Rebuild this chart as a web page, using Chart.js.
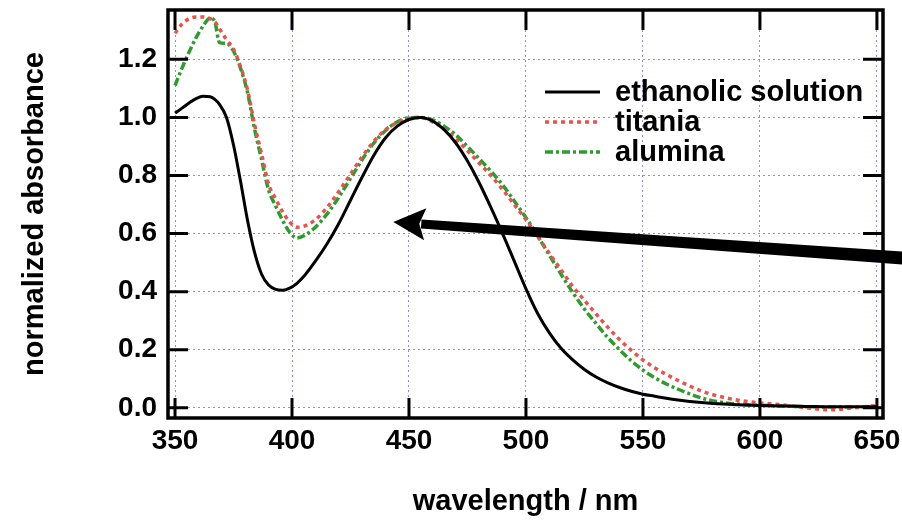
<!DOCTYPE html>
<html>
<head>
<meta charset="utf-8">
<script src="https://cdn.jsdelivr.net/npm/chart.js@4/dist/chart.umd.min.js"></script>
<style>
  html, body { margin: 0; padding: 0; background: #fff; }
  #wrap { width: 902px; height: 526px; }
</style>
</head>
<body>
<div id="wrap"><canvas id="c" width="902" height="526"></canvas></div>
<script>
// ---- data ----
const wavelengths = [350,353,356,359,362,365,367,369,372,375,
  378,381,384,387,390,393,396,399,402,405,
  410,415,420,425,430,435,440,445,450,455,
  460,465,470,475,480,485,490,495,500,505,
  510,515,520,525,530,535,540,545,550,555,
  560,565,570,575,580,590,600,610,620,630,
  640,650];
const ethanolic = [1.015,1.032,1.05,1.065,1.073,1.071,1.062,1.045,1.0,0.905,
  0.78,0.645,0.535,0.46,0.423,0.408,0.405,0.412,0.428,0.452,
  0.505,0.565,0.635,0.715,0.795,0.87,0.93,0.97,0.993,1.0,
  0.988,0.958,0.912,0.85,0.775,0.69,0.6,0.505,0.41,0.325,
  0.258,0.205,0.165,0.132,0.106,0.086,0.07,0.057,0.047,0.04,
  0.033,0.027,0.022,0.018,0.015,0.011,0.008,0.006,0.005,0.004,
  0.004,0.004];
const titania = [1.29,1.322,1.34,1.346,1.346,1.34,1.33,1.305,1.268,1.235,
  1.175,1.095,0.975,0.875,0.77,0.72,0.675,0.64,0.622,0.625,
  0.648,0.69,0.745,0.805,0.865,0.918,0.958,0.983,0.997,1.0,
  0.985,0.96,0.925,0.885,0.843,0.8,0.752,0.7,0.648,0.59,
  0.532,0.475,0.418,0.37,0.323,0.277,0.235,0.198,0.165,0.138,
  0.115,0.094,0.075,0.058,0.045,0.027,0.017,0.01,0.0,-0.007,
  0.0,0.008];
const alumina = [1.11,1.17,1.225,1.275,1.315,1.342,1.33,1.258,1.255,1.228,
  1.17,1.085,0.96,0.855,0.75,0.695,0.645,0.605,0.585,0.592,
  0.622,0.668,0.725,0.79,0.855,0.912,0.955,0.985,0.999,1.0,
  0.992,0.97,0.94,0.9,0.858,0.815,0.768,0.712,0.655,0.592,
  0.526,0.46,0.397,0.34,0.29,0.242,0.2,0.162,0.13,0.104,
  0.082,0.064,0.048,0.034,0.024,0.013,0.009,0.006,0.004,0.003,
  0.003,0.004];
const seriesLabels = ['ethanolic solution', 'titania', 'alumina'];
const xTickValues = [350,400,450,500,550,600,650];
const yTickValues = [0.0,0.2,0.4,0.6,0.8,1.0,1.2];
const xTitle = 'wavelength / nm';
const yTitle = 'normalized absorbance';
// annotation arrow in data units: [wavelength, absorbance]
const arrowTail = [664, 0.514];
const arrowTip = [443.3, 0.64];

// ---- styles ----
const FONT = '"Liberation Sans", Arial, Helvetica, sans-serif';
const styles = [
  { color: '#000000', width: 3, dash: [] },
  { color: '#e5544f', width: 3.5, dash: [4, 4] },
  { color: '#2f9a2f', width: 3.5, dash: [8, 3, 3, 3] }
];
const seriesValues = [ethanolic, titania, alumina];

const datasets = seriesValues.map((vals, i) => ({
  label: seriesLabels[i],
  data: wavelengths.map((w, k) => ({ x: w, y: vals[k] })),
  borderColor: styles[i].color,
  borderWidth: styles[i].width,
  borderDash: styles[i].dash,
  borderCapStyle: 'butt',
  pointRadius: 0,
  fill: false,
  cubicInterpolationMode: 'monotone'
}));

const framePlugin = {
  id: 'frame',
  afterDatasetsDraw(chart) {
    const { ctx, chartArea: a, scales: { x, y } } = chart;
    ctx.save();
    ctx.strokeStyle = '#000';
    ctx.lineWidth = 3;
    ctx.lineCap = 'butt';
    ctx.beginPath();
    const tl = 20;
    xTickValues.forEach(v => {
      const px = x.getPixelForValue(v);
      ctx.moveTo(px, a.bottom); ctx.lineTo(px, a.bottom - tl);
      ctx.moveTo(px, a.top); ctx.lineTo(px, a.top + tl);
    });
    yTickValues.forEach(v => {
      const py = y.getPixelForValue(v);
      ctx.moveTo(a.left, py); ctx.lineTo(a.left + tl, py);
      ctx.moveTo(a.right, py); ctx.lineTo(a.right - tl, py);
    });
    ctx.stroke();
    ctx.lineWidth = 3.5;
    ctx.strokeRect(a.left, a.top, a.right - a.left, a.bottom - a.top);

    // legend
    const lx0 = a.right - 338, lx1 = a.right - 283, tx = a.right - 268;
    const ly0 = a.top + 82, lstep = 30;
    ctx.font = 'bold 29px ' + FONT;
    ctx.textBaseline = 'middle';
    ctx.textAlign = 'left';
    seriesLabels.forEach((lab, i) => {
      const yy = ly0 + i * lstep;
      ctx.beginPath();
      ctx.strokeStyle = styles[i].color;
      ctx.lineWidth = styles[i].width;
      ctx.setLineDash(styles[i].dash);
      ctx.moveTo(lx0, yy); ctx.lineTo(lx1, yy);
      ctx.stroke();
      ctx.setLineDash([]);
      ctx.fillStyle = '#000';
      ctx.fillText(lab, tx, yy + 1);
    });
    ctx.restore();
  },
  afterDraw(chart) {
    const { ctx, scales: { x, y } } = chart;
    const tx = x.getPixelForValue(arrowTail[0]), ty = y.getPixelForValue(arrowTail[1]);
    const hx = x.getPixelForValue(arrowTip[0]), hy = y.getPixelForValue(arrowTip[1]);
    const ang = Math.atan2(hy - ty, hx - tx);
    const ux = Math.cos(ang), uy = Math.sin(ang);
    const nx = -uy, ny = ux;
    const headLen = 32, headHalf = 16;
    const bx = hx - ux * headLen, by = hy - uy * headLen;
    ctx.save();
    ctx.fillStyle = '#000';
    ctx.beginPath();
    ctx.moveTo(tx + nx * 6.5, ty + ny * 6.5);
    ctx.lineTo(bx + ux * 4 + nx * 4.5, by + uy * 4 + ny * 4.5);
    ctx.lineTo(bx + ux * 4 - nx * 4.5, by + uy * 4 - ny * 4.5);
    ctx.lineTo(tx - nx * 6.5, ty - ny * 6.5);
    ctx.closePath();
    ctx.fill();
    ctx.beginPath();
    ctx.moveTo(hx, hy);
    ctx.lineTo(bx + nx * headHalf, by + ny * headHalf);
    ctx.lineTo(bx + ux * 6, by + uy * 6);
    ctx.lineTo(bx - nx * headHalf, by - ny * headHalf);
    ctx.closePath();
    ctx.fill();
    ctx.restore();
  }
};

const tickFont = { family: FONT, size: 28, weight: 'bold' };
const titleFont = { family: FONT, size: 29, weight: 'bold' };
const gridColor = '#8e8ee2';

new Chart(document.getElementById('c'), {
  type: 'line',
  data: { datasets },
  options: {
    responsive: false,
    devicePixelRatio: 1,
    animation: false,
    layout: { padding: { top: 10, right: 19, bottom: 0, left: 0 } },
    plugins: { legend: { display: false }, tooltip: { enabled: false } },
    scales: {
      x: {
        type: 'linear',
        min: 347,
        max: 652.6,
        afterBuildTicks: (axis) => { axis.ticks = xTickValues.map(v => ({ value: v })); },
        afterFit: (axis) => { axis.height = 108; axis.paddingLeft = 0; axis.paddingRight = 0; },
        ticks: { font: tickFont, color: '#000', padding: 6, maxRotation: 0, autoSkip: false,
                 callback: (v) => String(v) },
        grid: { color: gridColor, lineWidth: 1, drawTicks: false },
        border: { display: false, dash: [2, 3] },
        title: { display: true, text: xTitle, color: '#000', font: titleFont,
                 padding: { top: 0, bottom: 7 } }
      },
      y: {
        type: 'linear',
        min: -0.035,
        max: 1.37,
        afterBuildTicks: (axis) => { axis.ticks = yTickValues.map(v => ({ value: v })); },
        afterFit: (axis) => { axis.width = 168; axis.paddingTop = 0; axis.paddingBottom = 0; },
        ticks: { font: tickFont, color: '#000', padding: 11, autoSkip: false,
                 callback: (v) => Number(v).toFixed(1) },
        grid: { color: gridColor, lineWidth: 1, drawTicks: false },
        border: { display: false, dash: [2, 3] },
        title: { display: true, text: yTitle, color: '#000', font: titleFont,
                 padding: { top: 18, bottom: 0 } }
      }
    }
  },
  plugins: [framePlugin]
});
</script>
</body>
</html>
